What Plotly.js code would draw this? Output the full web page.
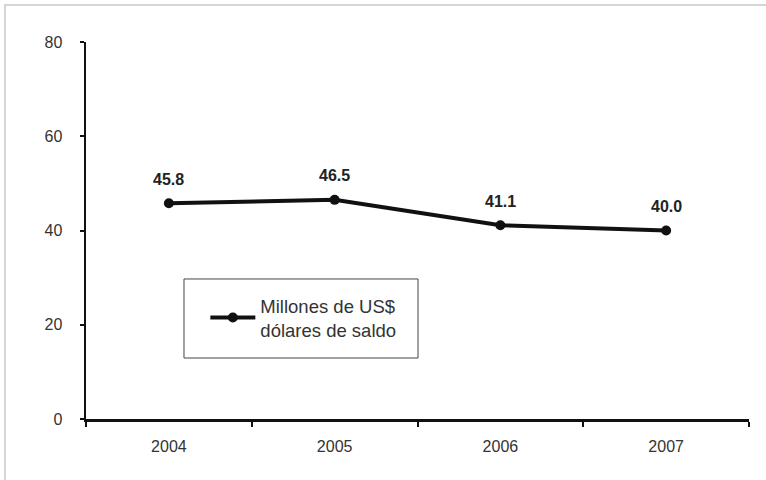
<!DOCTYPE html>
<html>
<head>
<meta charset="utf-8">
<script src="https://cdn.plot.ly/plotly-3.0.1.min.js"></script>
<style>html,body{margin:0;padding:0;background:#fff;}#chart{width:766px;height:480px;}</style>
</head>
<body>
<div id="chart"></div>
<script>
var years = ['2004', '2005', '2006', '2007'];
var values = [45.8, 46.5, 41.1, 40.0];
var labels = ['45.8', '46.5', '41.1', '40.0'];
var seriesName = 'Millones de US$<br>dólares de saldo';
var yTicks = [0, 20, 40, 60, 80];

var trace = {
  x: years, y: values, type: 'scatter', mode: 'lines+markers',
  name: seriesName,
  line: {color: '#111', width: 4},
  marker: {color: '#111', size: 10},
  cliponaxis: false
};

var annotations = years.map(function (yr, i) {
  return {x: i, y: values[i], xref: 'x', yref: 'y', text: labels[i], showarrow: false, yshift: 24,
    font: {family: 'Liberation Sans, Arial, sans-serif', size: 16, color: '#222', weight: 'bold'}};
});

var layout = {
  width: 766, height: 480,
  margin: {l: 86, r: 17, t: 42, b: 61},
  paper_bgcolor: '#fff', plot_bgcolor: '#fff',
  font: {family: 'Liberation Sans, Arial, sans-serif', color: '#333'},
  showlegend: true,
  legend: {x: 0.18, y: 0.268, xanchor: 'left', yanchor: 'middle', bgcolor: 'rgba(0,0,0,0)',
    borderwidth: 0, itemwidth: 45, font: {size: 18.5, color: '#333'}},
  xaxis: {type: 'category', range: [-0.5, 3.5], showline: true, linecolor: '#111', linewidth: 2.5,
    ticks: 'outside', tickson: 'boundaries', ticklen: 5, tickwidth: 2, tickcolor: '#111',
    showgrid: false, zeroline: false, tickfont: {size: 16, color: '#333'}, ticklabelstandoff: 11},
  yaxis: {range: [0, 80], tickvals: yTicks, showline: true, linecolor: '#111', linewidth: 2.5,
    ticks: 'outside', ticklen: 4, tickwidth: 2, tickcolor: '#111',
    showgrid: false, zeroline: false, tickfont: {size: 16, color: '#333'}, ticklabelstandoff: 14},
  annotations: annotations,
  shapes: [
    {type: 'rect', xref: 'paper', yref: 'paper', x0: 0.1478, x1: 0.5008, y0: 0.1618, y1: 0.3714,
      line: {color: '#444', width: 1}},
    {type: 'rect', xref: 'paper', yref: 'paper', x0: -0.1222, x1: 1.2, y0: -0.5, y1: 1.098,
      line: {color: '#c8c8c8', width: 1.5}}
  ]
};

Plotly.newPlot('chart', [trace], layout, {displayModeBar: false, staticPlot: true});
</script>
</body>
</html>
